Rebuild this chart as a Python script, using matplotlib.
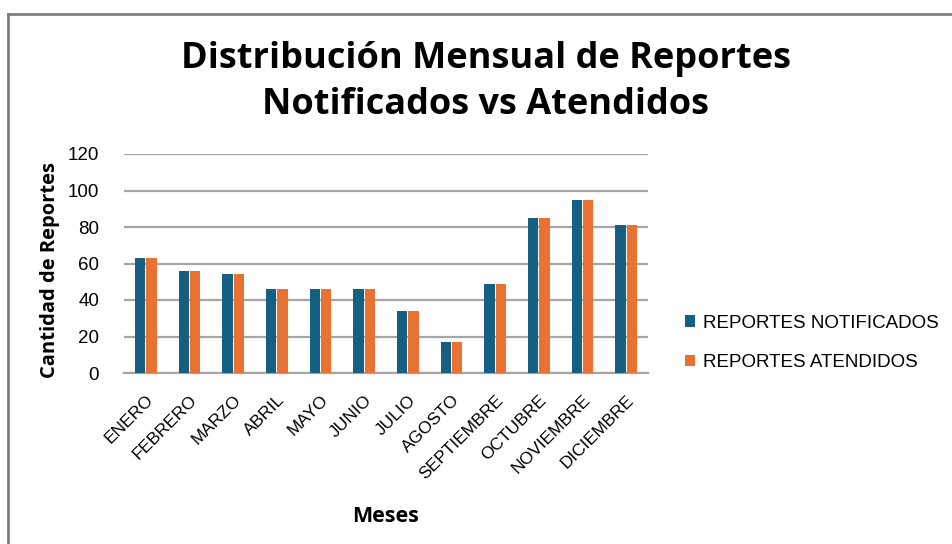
import matplotlib
matplotlib.use("Agg")
import matplotlib.pyplot as plt
import numpy as np
from matplotlib.lines import Line2D

plt.rcParams['font.family'] = ['Liberation Sans', 'DejaVu Sans']
BOLD = ['Open Sans', 'DejaVu Sans']

meses = ["ENERO", "FEBRERO", "MARZO", "ABRIL", "MAYO", "JUNIO", "JULIO",
         "AGOSTO", "SEPTIEMBRE", "OCTUBRE", "NOVIEMBRE", "DICIEMBRE"]
notificados = [63, 56, 54, 46, 46, 46, 34, 17, 49, 85, 95, 81]
atendidos = [63, 56, 54, 46, 46, 46, 34, 17, 49, 85, 95, 81]
series_labels = ["REPORTES NOTIFICADOS", "REPORTES ATENDIDOS"]
yticks = [0, 20, 40, 60, 80, 100, 120]

c_blue = "#156082"
c_orange = "#E97132"

fig = plt.figure(figsize=(9.52, 5.44), dpi=100)
fig.patch.set_facecolor("white")

# chart border
fig.add_artist(Line2D([8/952, 8/952], [0, 1 - 14/544], transform=fig.transFigure,
                      color="#808080", lw=2))
fig.add_artist(Line2D([8/952, 1], [1 - 14/544, 1 - 14/544], transform=fig.transFigure,
                      color="#808080", lw=2))

ax = fig.add_axes([124/952, 1 - 373/544, 524/952, 219/544])
x = np.arange(len(meses))
w = 0.23
b1 = ax.bar(x - 0.13, notificados, width=w, color=c_blue, label=series_labels[0], zorder=3)
b2 = ax.bar(x + 0.13, atendidos, width=w, color=c_orange, label=series_labels[1], zorder=3)

ax.set_xlim(-0.5, len(meses) - 0.5)
ax.set_ylim(0, 120)
ax.set_yticks(yticks)
ax.yaxis.grid(True, color="#a6a6a6", lw=1.6, zorder=0)
ax.set_axisbelow(True)
for s in ["top", "right", "left"]:
    ax.spines[s].set_visible(False)
ax.spines["bottom"].set_color("#a6a6a6")
ax.spines["bottom"].set_linewidth(1.6)
ax.tick_params(axis="y", length=0, labelsize=13.5, pad=18)
ax.tick_params(axis="x", length=0, labelsize=12.5, pad=14)
ax.set_xticks(x)
ax.set_xticklabels(meses, rotation=45, ha="right", rotation_mode="anchor")

ax.set_ylabel("Cantidad de Reportes", fontsize=14.5, fontweight="bold", family=BOLD)
ax.yaxis.set_label_coords(-0.122, 0.47)
ax.set_xlabel("Meses", fontsize=15.5, fontweight="bold", family=BOLD, labelpad=17)

fig.text(486/952, 1 - 59/544, "Distribución Mensual de Reportes", ha="center", va="center",
         fontsize=26, fontweight="bold", family=BOLD)
fig.text(486/952, 1 - 105/544, "Notificados vs Atendidos", ha="center", va="center",
         fontsize=26, fontweight="bold", family=BOLD)

leg = fig.legend(handles=[b1, b2], labels=series_labels, loc="center left",
                 bbox_to_anchor=(668/952, 1 - 343/544), frameon=False, fontsize=13.5,
                 handlelength=0.55, handleheight=0.55, handletextpad=0.4, labelspacing=1.2)

fig.savefig("out.png", dpi=100, facecolor="white")
